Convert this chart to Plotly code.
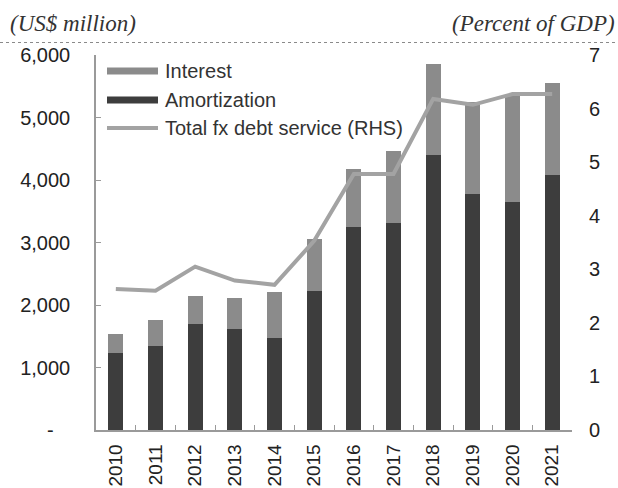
import plotly.graph_objects as go

# Foreign-currency debt service, 2010-2021
years = ["2010", "2011", "2012", "2013", "2014", "2015",
         "2016", "2017", "2018", "2019", "2020", "2021"]
amortization = [1230, 1345, 1690, 1610, 1475, 2230, 3250, 3320, 4400, 3775, 3650, 4080]
interest = [310, 415, 455, 500, 735, 825, 925, 1150, 1455, 1475, 1700, 1480]
total_pct_gdp = [2.63, 2.60, 3.05, 2.79, 2.71, 3.53, 4.78, 4.78, 6.18, 6.07, 6.27, 6.27]

left_ticks = [0, 1000, 2000, 3000, 4000, 5000, 6000]
left_ticktext = ["-\u00a0\u00a0\u00a0", "1,000", "2,000", "3,000", "4,000", "5,000", "6,000"]
right_ticks = [0, 1, 2, 3, 4, 5, 6, 7]

legend_labels = ["Interest", "Amortization", "Total fx debt service (RHS)"]

C_INTEREST = "#8b8b8b"
C_AMORT = "#3d3d3d"
C_LINE = "#a3a3a3"
C_AXIS = "#9a9a9a"
SANS = "Liberation Sans, Arial, sans-serif"
SERIF = "Liberation Serif, Times New Roman, serif"

W, H = 618, 488
ML, MR, MT, MB = 96, 46, 55, 58
PW, PH = W - ML - MR, H - MT - MB


def px(x):
    return (x - ML) / PW


def py(y):
    return (H - MB - y) / PH


fig = go.Figure()
fig.add_trace(go.Bar(x=years, y=amortization, name="Amortization",
                     marker=dict(color=C_AMORT, line=dict(width=0)), showlegend=False))
fig.add_trace(go.Bar(x=years, y=interest, name="Interest",
                     marker=dict(color=C_INTEREST, line=dict(width=0)), showlegend=False))
fig.add_trace(go.Scatter(x=years, y=total_pct_gdp, name="Total fx debt service (RHS)",
                         mode="lines", line=dict(color=C_LINE, width=4),
                         yaxis="y2", showlegend=False))

shapes = []
annotations = []

# legend block
legend_rows = [(71, C_INTEREST, "rect"), (100, C_AMORT, "rect"), (128, C_LINE, "line")]
for (yc, col, kind), label in zip(legend_rows, legend_labels):
    if kind == "rect":
        shapes.append(dict(type="rect", xref="paper", yref="paper",
                           x0=px(107), x1=px(158), y0=py(yc + 3.5), y1=py(yc - 3.5),
                           fillcolor=col, line=dict(width=0)))
    else:
        shapes.append(dict(type="line", xref="paper", yref="paper",
                           x0=px(107), x1=px(158), y0=py(yc), y1=py(yc),
                           line=dict(color=col, width=4)))
    annotations.append(dict(text=label, xref="paper", yref="paper",
                            x=px(163), y=py(yc), xanchor="left", yanchor="middle",
                            showarrow=False, font=dict(family=SANS, size=20, color="#333333")))

# dotted rule under the unit labels
shapes.append(dict(type="line", xref="paper", yref="paper",
                   x0=px(0), x1=px(W), y0=py(42.5), y1=py(42.5),
                   line=dict(color="#8a8a8a", width=1.2, dash="dot")))

annotations.append(dict(text="(US$ million)", xref="paper", yref="paper",
                        x=px(8), y=py(23), xanchor="left", yanchor="middle", showarrow=False,
                        font=dict(family=SERIF, size=23, style="italic", color="#333333")))
annotations.append(dict(text="(Percent of GDP)", xref="paper", yref="paper",
                        x=px(617), y=py(23), xanchor="right", yanchor="middle", showarrow=False,
                        font=dict(family=SERIF, size=23, style="italic", color="#333333")))

fig.update_layout(
    width=W, height=H,
    margin=dict(l=ML, r=MR, t=MT, b=MB, pad=0, autoexpand=False),
    paper_bgcolor="white", plot_bgcolor="white",
    barmode="stack", bargap=0.62,
    showlegend=False,
    shapes=shapes, annotations=annotations,
    xaxis=dict(type="category", range=[-0.5, 11.5], showgrid=False, automargin=False,
               showline=True, linecolor=C_AXIS, linewidth=1.5,
               ticks="inside", tickson="boundaries", ticklen=5, tickcolor=C_AXIS,
               tickangle=-90, ticklabelstandoff=5,
               tickfont=dict(family=SANS, size=19, color="#222222")),
    yaxis=dict(range=[0, 6000], tickvals=left_ticks, ticktext=left_ticktext,
               showgrid=False, zeroline=False, automargin=False,
               showline=True, linecolor=C_AXIS, linewidth=1.5,
               ticks="inside", ticklen=5, tickcolor=C_AXIS, ticklabelstandoff=20,
               tickfont=dict(family=SANS, size=20, color="#222222")),
    yaxis2=dict(range=[0, 7], tickvals=right_ticks, overlaying="y", side="right",
                showgrid=False, zeroline=False, showline=False, ticks="", automargin=False,
                ticklabelstandoff=16,
                tickfont=dict(family=SANS, size=20, color="#222222")),
)

fig.write_html("out.html")
